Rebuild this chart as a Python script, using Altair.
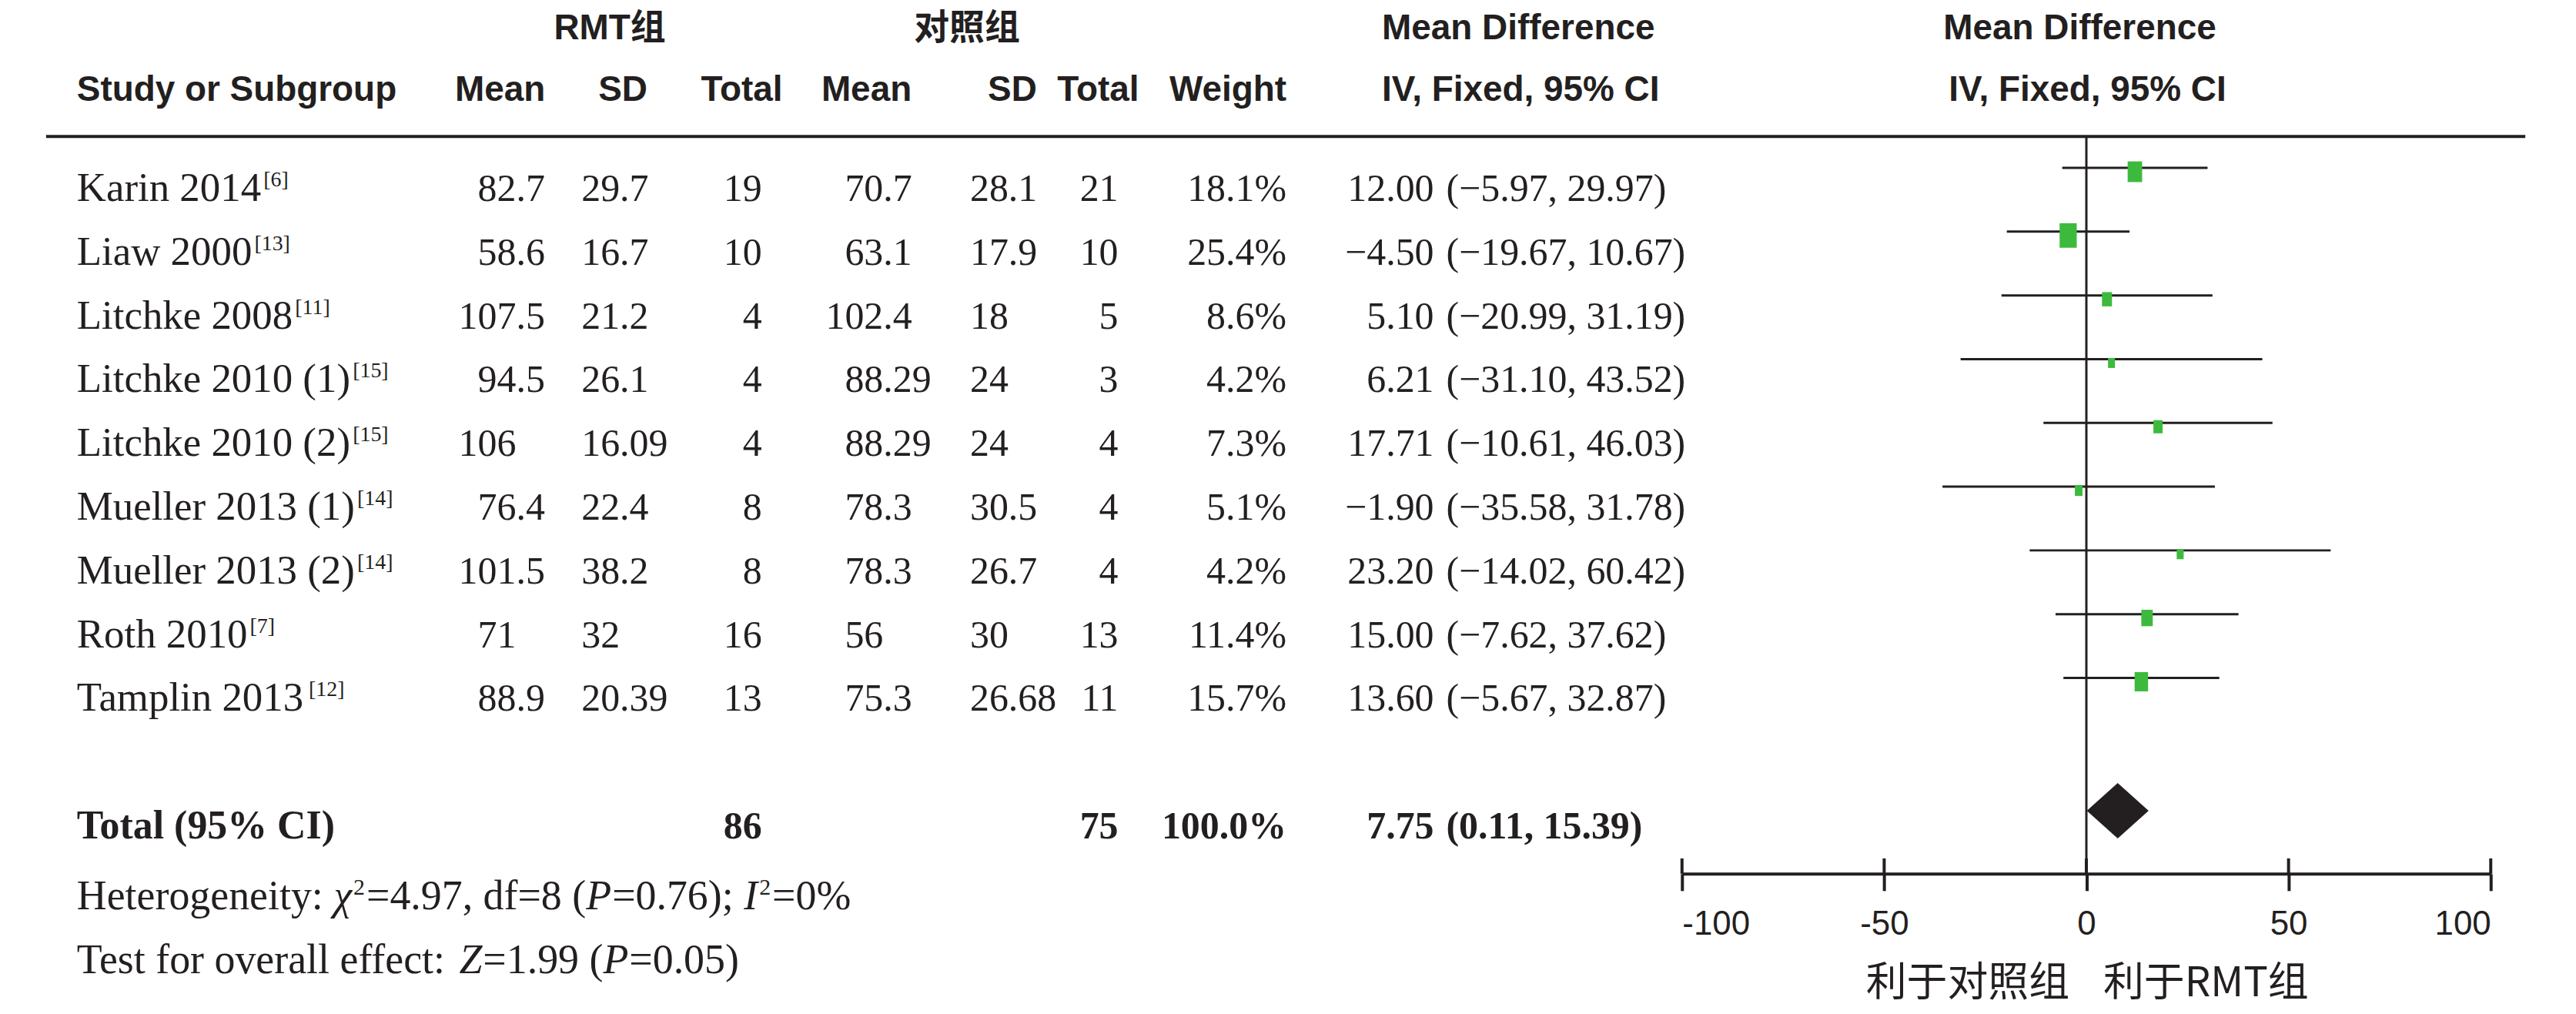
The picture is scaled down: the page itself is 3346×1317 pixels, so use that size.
import altair as alt
import pandas as pd

# ---------------- data ----------------
studies = ["Karin 2014", "Liaw 2000", "Litchke 2008", "Litchke 2010 (1)", "Litchke 2010 (2)",
           "Mueller 2013 (1)", "Mueller 2013 (2)", "Roth 2010", "Tamplin 2013"]
refs = ["[6]", "[13]", "[11]", "[15]", "[15]", "[14]", "[14]", "[7]", "[12]"]
rmt_mean = [82.7, 58.6, 107.5, 94.5, 106, 76.4, 101.5, 71, 88.9]
rmt_sd = [29.7, 16.7, 21.2, 26.1, 16.09, 22.4, 38.2, 32, 20.39]
rmt_n = [19, 10, 4, 4, 4, 8, 8, 16, 13]
ctl_mean = [70.7, 63.1, 102.4, 88.29, 88.29, 78.3, 78.3, 56, 75.3]
ctl_sd = [28.1, 17.9, 18, 24, 24, 30.5, 26.7, 30, 26.68]
ctl_n = [21, 10, 5, 3, 4, 4, 4, 13, 11]
weights = [18.1, 25.4, 8.6, 4.2, 7.3, 5.1, 4.2, 11.4, 15.7]
md = [12.00, -4.50, 5.10, 6.21, 17.71, -1.90, 23.20, 15.00, 13.60]
ci_lo = [-5.97, -19.67, -20.99, -31.10, -10.61, -35.58, -14.02, -7.62, -5.67]
ci_hi = [29.97, 10.67, 31.19, 43.52, 46.03, 31.78, 60.42, 37.62, 32.87]

total_rmt_n = 86
total_ctl_n = 75
total_weight = 100.0
total_md = 7.75
total_lo = 0.11
total_hi = 15.39

axis_ticks = [-100, -50, 0, 50, 100]
favours_left = "利于对照组"
favours_right = "利于RMT组"

# ---------------- styling ----------------
INK = "#231f20"
GREEN = "#3dba3d"
SERIF = "Liberation Serif"
SANS = "Liberation Sans, Arial, Noto Sans CJK SC, sans-serif"
CJK = "Noto Sans CJK SC, Noto Sans, sans-serif"

W, H = 3330, 1128
yscale = alt.Scale(domain=[0, 10], range=[252, 1082])
xscale = alt.Scale(domain=[-100, 100], range=[2182, 3235])
pix = alt.Scale(domain=[0, 1000], range=[0, 1000])

TIMES = {' ': 250, '(': 333, ')': 333, ',': 250, '-': 333, '.': 250, ':': 278, ';': 278,
         '=': 564, '%': 833, '[': 333, ']': 333, '\u2212': 564,
         'A': 722, 'C': 667, 'D': 722, 'H': 722, 'I': 333, 'K': 722, 'L': 611, 'M': 889,
         'P': 556, 'R': 667, 'T': 611, 'Z': 611,
         'a': 444, 'c': 444, 'd': 500, 'e': 444, 'f': 333, 'g': 500, 'h': 500, 'i': 278,
         'k': 500, 'l': 278, 'm': 778, 'n': 500, 'o': 500, 'p': 500, 'r': 333, 's': 389,
         't': 278, 'u': 500, 'v': 500, 'w': 722, 'y': 500}
ITALIC = {'P': 611, 'I': 333, 'Z': 556, '\u03c7': 440}


def tw(text, size, table=TIMES):
    return sum(table.get(c, TIMES.get(c, 500)) for c in text) * size / 1000.0


def split_dec(v):
    s = str(v)
    if "." in s:
        a, b = s.split(".")
        return a, "." + b
    return s, ""


def neg(s):
    return s.replace("-", "\u2212")


NAME_SIZE = 53
NUM_SIZE = 50
LEFT = 92

rows = []
for i, name in enumerate(studies):
    rm_i, rm_f = split_dec(rmt_mean[i])
    rs_i, rs_f = split_dec(rmt_sd[i])
    cm_i, cm_f = split_dec(ctl_mean[i])
    cs_i, cs_f = split_dec(ctl_sd[i])
    rows.append(dict(
        row=i, name=name, ref=refs[i],
        sup_x=LEFT + tw(name, NAME_SIZE) + 3,
        rm_i=rm_i, rm_f=rm_f, rs_i=rs_i, rs_f=rs_f,
        cm_i=cm_i, cm_f=cm_f, cs_i=cs_i, cs_f=cs_f,
        rn=str(rmt_n[i]), cn=str(ctl_n[i]),
        wt=f"{weights[i]:.1f}%",
        md_s=neg(f"{md[i]:.2f}"),
        ci_s=neg(f"({ci_lo[i]:.2f}, {ci_hi[i]:.2f})"),
        md=md[i], lo=ci_lo[i], hi=ci_hi[i], weight=weights[i]))
df = pd.DataFrame(rows)

tot = pd.DataFrame([dict(row=10, name="Total (95% CI)", rn=str(total_rmt_n), cn=str(total_ctl_n),
                         wt=f"{total_weight:.1f}%", md_s=neg(f"{total_md:.2f}"),
                         ci_s=neg(f"({total_lo:.2f}, {total_hi:.2f})"))])

# diamond outline built from the pooled estimate
HALF = 0.434
diamond = pd.DataFrame(dict(x=[total_lo, total_md, total_hi],
                            y=[10.0, 10 - HALF, 10.0],
                            y2=[10.0, 10 + HALF, 10.0]))


def txt(data, field, x, align, size=NUM_SIZE, font=SERIF, weight="normal", style="normal", dy=0):
    if isinstance(x, str):
        xe = alt.X(x, scale=pix, axis=None)
    else:
        xe = alt.value(x)
    return alt.Chart(data).mark_text(
        align=align, baseline="alphabetic", font=font, fontSize=size, fontWeight=weight,
        fontStyle=style, color=INK, dy=dy
    ).encode(x=xe, y=alt.Y("row:Q", scale=yscale, axis=None), text=f"{field}:N")


layers = []
# study rows
layers.append(txt(df, "name", LEFT, "left", size=NAME_SIZE))
layers.append(txt(df, "ref", "sup_x:Q", "left", size=28, dy=-19))
for fi, ff, xd in [("rm_i", "rm_f", 664), ("rs_i", "rs_f", 799), ("cm_i", "cm_f", 1142), ("cs_i", "cs_f", 1305)]:
    layers.append(txt(df, fi, xd, "right"))
    layers.append(txt(df, ff, xd, "left"))
layers.append(txt(df, "rn", 984, "right"))
layers.append(txt(df, "cn", 1448, "right"))
layers.append(txt(df, "wt", 1667, "right"))
layers.append(txt(df, "md_s", 1859, "right"))
layers.append(txt(df, "ci_s", 1875, "left"))
# total row
layers.append(txt(tot, "name", LEFT, "left", size=52, weight="bold"))
layers.append(txt(tot, "rn", 984, "right", weight="bold"))
layers.append(txt(tot, "cn", 1448, "right", weight="bold"))
layers.append(txt(tot, "wt", 1667, "right", weight="bold"))
layers.append(txt(tot, "md_s", 1859, "right", weight="bold"))
layers.append(txt(tot, "ci_s", 1875, "left", weight="bold"))

# headers
headers = [
    ("RMT组", 786, 42, "center"), ("对照组", 1251, 42, "center"),
    ("Mean Difference", 1969, 42, "center"), ("Mean Difference", 2700, 42, "center"),
    ("Study or Subgroup", 92, 122, "left"),
    ("Mean", 702, 122, "right"), ("SD", 835, 122, "right"), ("Total", 1011, 122, "right"),
    ("Mean", 1179, 122, "right"), ("SD", 1342, 122, "right"), ("Total", 1475, 122, "right"),
    ("Weight", 1667, 122, "right"),
    ("IV, Fixed, 95% CI", 1972, 122, "center"), ("IV, Fixed, 95% CI", 2710, 122, "center"),
]
hdf = pd.DataFrame(headers, columns=["text", "x", "y", "align"])
for al in ["left", "right", "center"]:
    layers.append(alt.Chart(hdf[hdf["align"] == al]).mark_text(
        align=al, baseline="alphabetic", font=SANS, fontSize=46, fontWeight="bold", color=INK
    ).encode(x=alt.X("x:Q", scale=pix, axis=None), y=alt.Y("y:Q", scale=pix, axis=None), text="text:N"))

# footer (mixed styles)
FOOT = 54


def seg_layout(segs, x0, y0):
    out = []
    x = x0
    for text, style in segs:
        if style == "sup":
            out.append(dict(x=x + 1, y=y0 - 19, text=text, style=style))
            x += tw(text, 30) + 3
        elif style == "italic":
            out.append(dict(x=x, y=y0, text=text, style=style))
            x += tw(text, FOOT, ITALIC) + 1
        else:
            out.append(dict(x=x, y=y0, text=text, style=style))
            x += tw(text, FOOT)
    return out


foot = seg_layout([("Heterogeneity: ", "n"), ("\u03c7", "italic"), ("2", "sup"), ("=4.97, df=8 (", "n"),
                   ("P", "italic"), ("=0.76); ", "n"), ("I", "italic"), ("2", "sup"), ("=0%", "n")], LEFT, 1174)
foot += seg_layout([("Test for overall effect: ", "n"), ("Z", "italic"), ("=1.99 (", "n"),
                    ("P", "italic"), ("=0.05)", "n")], LEFT, 1257)
fdf = pd.DataFrame(foot)
for st, size, fstyle in [("n", FOOT, "normal"), ("italic", FOOT, "italic"), ("sup", 30, "normal")]:
    layers.append(alt.Chart(fdf[fdf["style"] == st]).mark_text(
        align="left", baseline="alphabetic", font=SERIF, fontSize=size, fontStyle=fstyle, color=INK
    ).encode(x=alt.X("x:Q", scale=pix, axis=None), y=alt.Y("y:Q", scale=pix, axis=None), text="text:N"))

# rules: header line, zero line
layers.append(alt.Chart(pd.DataFrame({"v": [0]})).mark_rule(strokeWidth=4, color=INK).encode(
    x=alt.value(52), x2=alt.value(3280), y=alt.value(168)))
layers.append(alt.Chart(pd.DataFrame({"v": [0]})).mark_rule(strokeWidth=3, color=INK).encode(
    x=alt.X("v:Q", scale=xscale, axis=None), y=alt.value(168), y2=alt.value(1128)))

# forest: CI lines with the axis
xaxis = alt.Axis(values=axis_ticks, title=None, grid=False, domain=True, domainWidth=4, domainColor=INK,
                 ticks=True, tickSize=22, tickWidth=4, tickColor=INK, labelFlush=True,
                 labelFont=SANS, labelFontSize=44, labelColor=INK, labelPadding=22,
                 labelExpr="datum.value < 0 ? '-' + abs(datum.value) : '' + datum.value")
layers.append(alt.Chart(df).mark_rule(strokeWidth=3, color=INK, yOffset=-43).encode(
    x=alt.X("lo:Q", scale=xscale, axis=xaxis), x2="hi:Q",
    y=alt.Y("row:Q", scale=yscale, axis=None)))
# upper halves of the axis ticks
layers.append(alt.Chart(pd.DataFrame({"t": axis_ticks})).mark_rule(strokeWidth=4, color=INK).encode(
    x=alt.X("t:Q", scale=xscale, axis=None), y=alt.value(1108), y2=alt.value(1128)))
# weight squares
layers.append(alt.Chart(df).mark_point(
    shape="M-0.7,-1L0.7,-1L0.7,1L-0.7,1Z", filled=True, color=GREEN, opacity=1, strokeWidth=0, yOffset=-38
).encode(x=alt.X("md:Q", scale=xscale, axis=None), y=alt.Y("row:Q", scale=yscale, axis=None),
         size=alt.Size("weight:Q", scale=alt.Scale(domain=[0, 25.4], range=[0, 1016]), legend=None)))
# diamond
layers.append(alt.Chart(diamond).mark_area(color=INK, opacity=1, yOffset=-36, y2Offset=-36,
                                           interpolate="linear").encode(
    x=alt.X("x:Q", scale=xscale, axis=None),
    y=alt.Y("y:Q", scale=yscale, axis=None, stack=None), y2="y2:Q"))
# favours labels
fav = pd.DataFrame({"v": [0], "l": [favours_left], "r": [favours_right]})
layers.append(alt.Chart(fav).mark_text(align="right", baseline="middle", font=CJK, fontSize=53, color=INK, dx=-22).encode(
    x=alt.X("v:Q", scale=xscale, axis=None), y=alt.value(1272), text="l:N"))
layers.append(alt.Chart(fav).mark_text(align="left", baseline="middle", font=CJK, fontSize=53, color=INK, dx=22).encode(
    x=alt.X("v:Q", scale=xscale, axis=None), y=alt.value(1272), text="r:N"))

chart = alt.layer(*layers).resolve_scale(x="independent", y="independent", size="independent").properties(
    width=W, height=H,
    padding={"left": 0, "top": 0, "right": 8, "bottom": 180},
    autosize=alt.AutoSizeParams(type="none"),
    background="white",
).configure_view(stroke=None)

chart.save("out.html", embed_options={"renderer": "svg", "actions": False})
